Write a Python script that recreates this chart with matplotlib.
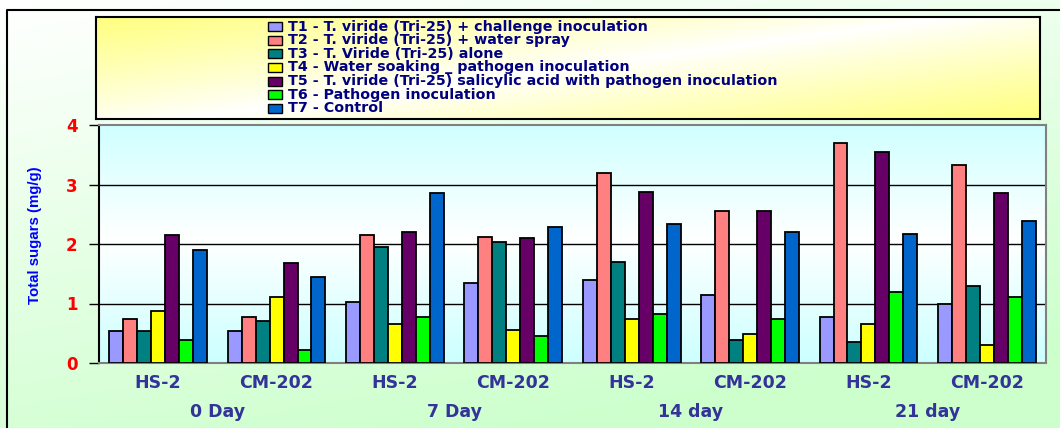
import numpy as np
import matplotlib.pyplot as plt
from matplotlib.patches import Rectangle

# data
varieties = ['HS-2', 'CM-202', 'HS-2', 'CM-202', 'HS-2', 'CM-202', 'HS-2', 'CM-202']
days = ['0 Day', '7 Day', '14 day', '21 day']
treatments = [
    'T1 - T. viride (Tri-25) + challenge inoculation',
    'T2 - T. viride (Tri-25) + water spray',
    'T3 - T. Viride (Tri-25) alone',
    'T4 - Water soaking _ pathogen inoculation',
    'T5 - T. viride (Tri-25) salicylic acid with pathogen inoculation',
    'T6 - Pathogen inoculation',
    'T7 - Control',
]
t1 = [0.53, 0.53, 1.02, 1.34, 1.40, 1.15, 0.78, 1.00]
t2 = [0.74, 0.78, 2.15, 2.12, 3.20, 2.56, 3.69, 3.33]
t3 = [0.53, 0.71, 1.95, 2.04, 1.70, 0.38, 0.36, 1.29]
t4 = [0.87, 1.11, 0.65, 0.55, 0.74, 0.49, 0.66, 0.31]
t5 = [2.15, 1.68, 2.21, 2.10, 2.88, 2.56, 3.55, 2.86]
t6 = [0.38, 0.22, 0.78, 0.45, 0.83, 0.74, 1.20, 1.11]
t7 = [1.90, 1.44, 2.85, 2.29, 2.33, 2.20, 2.17, 2.38]
series = [t1, t2, t3, t4, t5, t6, t7]
colors = ['#9999FF', '#FF8080', '#008080', '#FFFF00', '#660066', '#00FF00', '#0066CC']

plt.rcParams['font.family'] = ['DejaVu Sans']
plt.rcParams['font.weight'] = 'bold'

W, H = 1060, 428
fig = plt.figure(figsize=(W / 100, H / 100), dpi=100)

# page background: white top-left -> light green bottom
bg = fig.add_axes([0, 0, 1, 1], zorder=-10)
yy, xx = np.mgrid[0:1:200j, 0:1:200j]
t = np.clip(0.8 * yy + 0.35 * xx, 0, 1)
white = np.array([1.0, 1.0, 1.0])
green = np.array([0.80, 1.0, 0.80])
img = white * (1 - t[..., None]) + green * t[..., None]
bg.imshow(img, extent=[0, 1, 0, 1], origin='upper', aspect='auto')
bg.plot([7 / W, 7 / W, 1], [0, 1 - 10 / H, 1 - 10 / H], color='black', lw=1.5)
bg.set_xlim(0, 1)
bg.set_ylim(0, 1)
bg.axis('off')

# legend box with yellow diagonal gradient
lax = fig.add_axes([96 / W, 1 - 119 / H, 944 / W, 102 / H])
d = np.clip(np.abs((xx * 0.55 + yy * 0.45) - 0.5) * 2, 0, 1) ** 0.9
yellow = np.array([1.0, 1.0, 0.5])
limg = white * (1 - d[..., None]) + yellow * d[..., None]
lax.imshow(limg, extent=[0, 944, 102, 0], aspect='auto')
lax.set_xlim(0, 944)
lax.set_ylim(102, 0)
lax.set_xticks([])
lax.set_yticks([])
for s in lax.spines.values():
    s.set_linewidth(1.5)
for i, (name, c) in enumerate(zip(treatments, colors)):
    yc = 9.7 + 13.6 * i
    lax.add_patch(Rectangle((172, yc - 4.5), 14, 9, facecolor=c, edgecolor='black', lw=1))
    lax.text(192, yc, name, fontsize=10.3, color='#000080', va='center', ha='left')

# main plot
ax = fig.add_axes([99 / W, 1 - 363 / H, 947 / W, 238 / H])
g = np.linspace(0, 1, 200)
v = np.abs(g - 0.48) / 0.52
cyan = np.array([0.80, 1.0, 1.0])
pimg = white * (1 - v[:, None, None]) + cyan * v[:, None, None]
pimg = np.repeat(pimg, 2, axis=1)
ax.imshow(pimg, extent=[0, 1, 0, 1], origin='upper', aspect='auto',
          transform=ax.transAxes, zorder=0)

x = np.arange(len(varieties))
w = 0.118
for i, (vals, c) in enumerate(zip(series, colors)):
    ax.bar(x + (i - 3) * w, vals, w, color=c, edgecolor='black', lw=1.3, zorder=3)

ax.set_xlim(-0.5, len(varieties) - 0.5)
ax.set_ylim(0, 4)
ax.set_yticks([0, 1, 2, 3, 4])
for yv in [1, 2, 3]:
    ax.axhline(yv, color='black', lw=1, zorder=1)
ax.tick_params(axis='y', colors='black', length=7, width=1, pad=8.5, labelsize=12)
for lbl in ax.get_yticklabels():
    lbl.set_color('red')
ax.set_xticks(x)
ax.set_xticklabels(varieties, fontsize=12.5, color='#333399')
ax.tick_params(axis='x', length=0, pad=8)
for s in ['top', 'right', 'bottom']:
    ax.spines[s].set_color('#808080')
    ax.spines[s].set_linewidth(1.5)
ax.spines['left'].set_color('black')
ax.spines['left'].set_linewidth(1.5)

for k, dname in enumerate(days):
    ax.text(2 * k + 0.5, -0.205, dname, transform=ax.get_xaxis_transform(),
            ha='center', va='center', fontsize=12.5, color='#333399', fontweight='bold')

fig.text(35 / W, 1 - 235.5 / H, 'Total sugars (mg/g)', rotation=90, ha='center', va='center',
         color='#0000FF', fontsize=10.8, fontweight='bold', family=['Liberation Sans'])

fig.savefig('out.png', dpi=100)
